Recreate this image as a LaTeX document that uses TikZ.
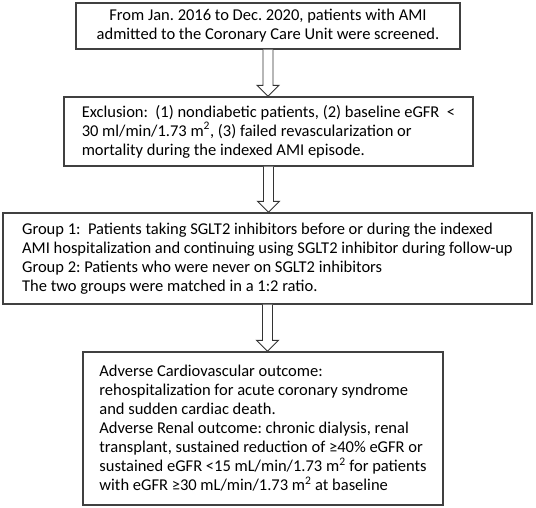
\documentclass[tikz,border=0pt]{standalone}
\usepackage{fontspec}
\setmainfont{Carlito}
\usetikzlibrary{calc}
\frenchspacing

% hollow block arrow from the bottom of one box to the top of the next
\newcommand\flowarrow[2]{%
    \draw[blockarrow] ($(#1.south)+(-5,0)$) -- ($(#1.south |- #2.north)+(-5,11)$)
        -- ++(-6,0) -- (#1.south |- #2.north) -- ++(11,11) -- ++(-6,0)
        -- ($(#1.south)+(5,0)$);}

\begin{document}
\begin{tikzpicture}[x=1pt,y=1pt,
    every node/.style={font=\fontsize{16.5}{19}\selectfont},
    stage/.style={draw=black!75, line width=1.3pt, align=left, inner sep=0pt},
    blockarrow/.style={draw=black!80, line width=0.9pt, fill=white, line join=miter}
    ]
    \useasboundingbox (0,0) rectangle (536,-508);
    \node[stage, align=center, minimum width=384, minimum height=46]
        (screen) at (268,-26)
        {From Jan. 2016 to Dec. 2020, patients with AMI\\
         admitted to the Coronary Care Unit were screened.};
    \node[stage, minimum width=409, minimum height=69]
        (exclude) at (268.5,-131.5)
        {Exclusion:\ \ (1) nondiabetic patients, (2) baseline eGFR\ \ <\\
         30 ml/min/1.73 m\textsuperscript{2}, (3) failed revascularization or\\
         mortality during the indexed AMI episode.};
    \node[stage, minimum width=529, minimum height=91]
        (groups) at (267.5,-258.5)
        {Group 1:\ \ Patients taking SGLT2 inhibitors before or during the indexed\\
         AMI hospitalization and continuing using SGLT2 inhibitor during follow-up\\
         Group 2: Patients who were never on SGLT2 inhibitors\\
         The two groups were matched in a 1:2 ratio.};
    \node[stage, minimum width=360, minimum height=153]
        (outcome) at (263,-428.5)
        {Adverse Cardiovascular outcome:\\
         rehospitalization for acute coronary syndrome\\
         and sudden cardiac death.\\
         Adverse Renal outcome: chronic dialysis, renal\\
         transplant, sustained reduction of ≥40\% eGFR or\\
         sustained eGFR <15 mL/min/1.73 m\textsuperscript{2} for patients\\
         with eGFR ≥30 mL/min/1.73 m\textsuperscript{2} at baseline};
    % arrows between the stages
    \flowarrow{screen}{exclude}
    \flowarrow{exclude}{groups}
    \flowarrow{groups}{outcome}
\end{tikzpicture}
\end{document}
